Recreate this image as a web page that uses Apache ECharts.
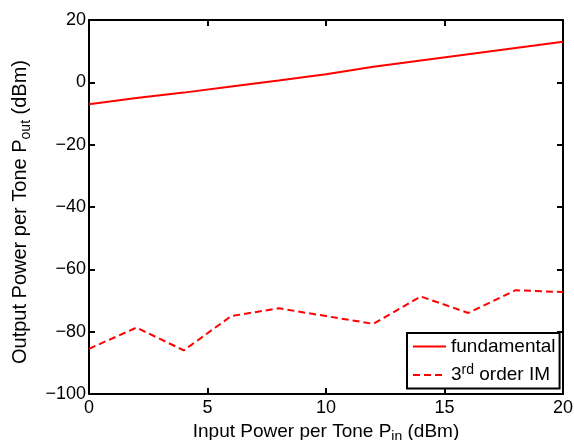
<!DOCTYPE html>
<html>
<head>
<meta charset="utf-8">
<script src="https://cdn.jsdelivr.net/npm/echarts@6/dist/echarts.min.js"></script>
<style>
  html, body { margin: 0; padding: 0; background: #fff; }
  #chart { width: 574px; height: 440px; }
</style>
</head>
<body>
<div id="chart"></div>
<script>
// input power per tone (dBm)
const pin = [0, 2, 4, 6, 8, 10, 12, 14, 16, 18, 20];
// output power
const fundamental = [-7, -5, -3.3, -1.3, 0.6, 2.6, 5, 7, 9, 11, 13];
const thirdOrderIM = [-85.5, -78.7, -86, -75, -72.5, -75, -77.5, -68.7, -74, -66.7, -67.3];

const font = "Liberation Sans";
const fundData = pin.map((x, i) => [x, fundamental[i]]);
const imData = pin.map((x, i) => [x, thirdOrderIM[i]]);

const chart = echarts.init(document.getElementById("chart"));

const axisCommon = {
  axisLine: { show: true, onZero: false, lineStyle: { color: "#000", width: 2 } },
  axisTick: { show: true, inside: true, length: 6, lineStyle: { color: "#000", width: 2 } },
  splitLine: { show: false },
};

const option = {
  animation: false,
  grid: { left: 89, right: 11, top: 20, bottom: 46, containLabel: false, outerBoundsMode: "none" },
  xAxis: [
    {
      ...axisCommon,
      type: "value",
      min: 0, max: 20, interval: 5,
      axisLabel: { color: "#000", fontFamily: font, fontSize: 18, margin: 5 },
      name: "Input Power per Tone P{sub|in} (dBm)",
      nameLocation: "middle",
      nameGap: 13,
      nameTextStyle: {
        color: "#000", fontFamily: font, fontSize: 19,
        rich: { sub: { fontSize: 14, fontFamily: font, color: "#000", padding: [12, 0, 0, 0] } },
      },
    },
    {
      ...axisCommon,
      type: "value", position: "top",
      min: 0, max: 20, interval: 5,
      axisLabel: { show: false },
    },
  ],
  yAxis: [
    {
      ...axisCommon,
      type: "value",
      min: -100, max: 20, interval: 20,
      axisLabel: {
        color: "#000", fontFamily: font, fontSize: 18, margin: 3,
        formatter: v => String(v).replace("-", "\u2212"),
      },
      name: "Output Power per Tone P{sub|out} (dBm)",
      nameLocation: "middle",
      nameRotate: 90,
      nameGap: 56,
      nameTextStyle: {
        color: "#000", fontFamily: font, fontSize: 20,
        padding: [0, 10, 0, 0],
        rich: { sub: { fontSize: 14, fontFamily: font, color: "#000", padding: [12, 0, 0, 0] } },
      },
    },
    {
      ...axisCommon,
      type: "value", position: "right",
      min: -100, max: 20, interval: 20,
      axisLabel: { show: false },
    },
  ],
  legend: {
    orient: "vertical",
    left: 407, top: 333,
    backgroundColor: "#fff",
    borderColor: "#000", borderWidth: 2,
    padding: [4, 4, 4, 5],
    itemGap: 7,
    itemWidth: 33, itemHeight: 14,
    itemStyle: { opacity: 0 },
    data: ["fundamental", "3rd order IM"],
    formatter: name => name === "3rd order IM" ? "3{sup|rd} order IM" : name,
    textStyle: {
      color: "#000", fontFamily: font, fontSize: 19,
      rich: { sup: { fontSize: 14, fontFamily: font, color: "#000", padding: [0, 0, 10, 0] } },
    },
  },
  series: [
    {
      name: "fundamental",
      type: "line",
      data: fundData,
      symbol: "none",
      lineStyle: { color: "#ff0000", width: 2 },
      itemStyle: { color: "#ff0000" },
    },
    {
      name: "3rd order IM",
      type: "line",
      data: imData,
      symbol: "none",
      lineStyle: { color: "#ff0000", width: 2, type: [7, 4] },
      itemStyle: { color: "#ff0000" },
    },
  ],
};

chart.setOption(option);
</script>
</body>
</html>
